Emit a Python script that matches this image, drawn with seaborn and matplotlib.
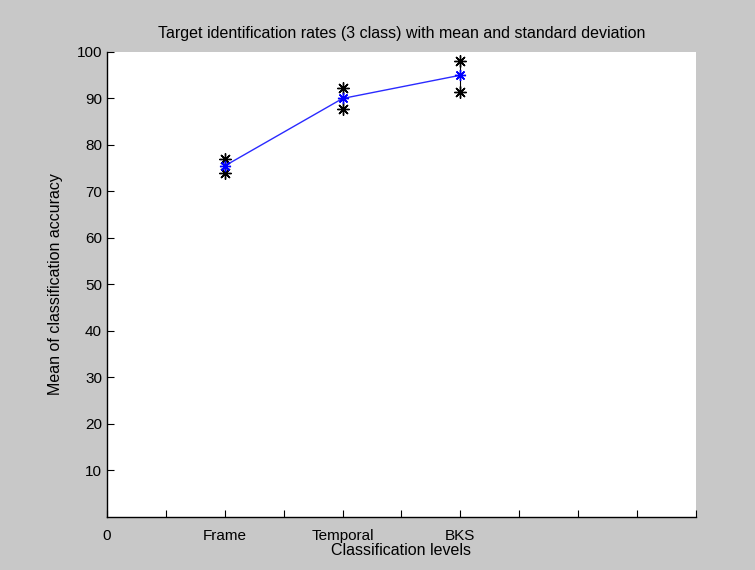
import pandas as pd
import matplotlib
matplotlib.use("Agg")
import matplotlib.pyplot as plt
import seaborn as sns

# values
levels = ["Frame", "Temporal", "BKS"]
level_pos = [2, 4, 6]
mean_acc = [75.5, 90.0, 95.0]
upper_acc = [77.0, 92.3, 98.1]
lower_acc = [74.0, 87.7, 91.5]

x_ticks = list(range(0, 11))
x_tick_labels = ["0", "", "Frame", "", "Temporal", "", "BKS", "", "", "", ""]
y_ticks = [10, 20, 30, 40, 50, 60, 70, 80, 90, 100]

df = pd.DataFrame({"level": levels, "pos": level_pos, "mean": mean_acc,
                   "upper": upper_acc, "lower": lower_acc})

sns.set_style("ticks")
plt.rcParams["font.family"] = ["Liberation Sans", "DejaVu Sans"]
plt.rcParams["text.color"] = "black"
plt.rcParams["axes.labelcolor"] = "black"

fig = plt.figure(figsize=(7.55, 5.7), dpi=100, facecolor="#c8c8c8")
ax = fig.add_axes([0.1417, 0.093, 0.78, 0.8158])
ax.set_facecolor("white")

star = (8, 2, 0)  # matlab style '*' marker

# std bars: thin black line with star ends
ax.vlines(df["pos"], df["lower"], df["upper"], color="black", linewidth=0.8, zorder=2)
ends = pd.concat([df[["pos", "upper"]].rename(columns={"upper": "val"}),
                  df[["pos", "lower"]].rename(columns={"lower": "val"})])
sns.scatterplot(data=ends, x="pos", y="val", marker=star, s=70,
                color="black", edgecolor="black", linewidth=1.0, ax=ax, zorder=3)

# mean line
sns.lineplot(data=df, x="pos", y="mean", color="#2a2aff", marker=star,
             markersize=8, markeredgecolor="blue", markeredgewidth=1.0,
             linewidth=1.0, ax=ax, zorder=4)

ax.set_xlim(0, 10)
ax.set_ylim(0, 100)
ax.set_xticks(x_ticks)
ax.set_xticklabels(x_tick_labels)
ax.set_yticks(y_ticks)
ax.tick_params(direction="in", length=5, width=0.8, labelsize=11, colors="black")
ax.tick_params(axis="x", pad=9)

for side in ["top", "right"]:
    ax.spines[side].set_visible(False)
for side in ["left", "bottom"]:
    ax.spines[side].set_linewidth(1.0)
    ax.spines[side].set_color("black")

ax.set_title("Target identification rates (3 class) with mean and standard deviation",
             fontsize=11.5, pad=10)
ax.set_xlabel("Classification levels", fontsize=11.5, labelpad=0)
ax.set_ylabel("Mean of classification accuracy", fontsize=11.5, labelpad=10)

fig.savefig("out.png", dpi=100, facecolor=fig.get_facecolor())
